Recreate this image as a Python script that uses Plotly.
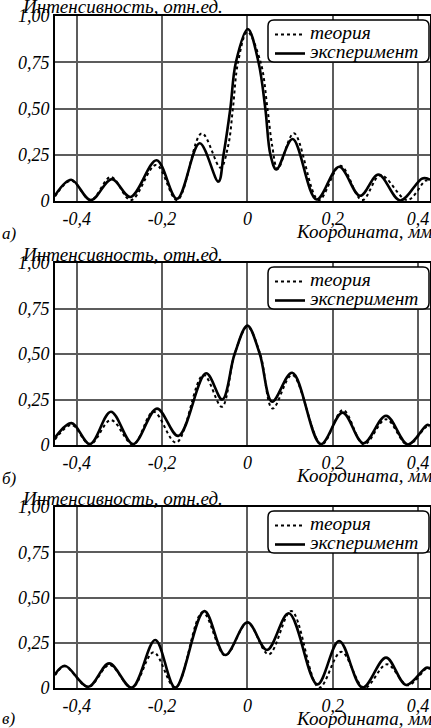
import plotly.graph_objects as go

# ---------------- data ----------------
# panel a)
a_theory_x = [-0.451, -0.413, -0.367, -0.320, -0.273, -0.214, -0.165, -0.107, -0.063, -0.045, -0.034, -0.022, 0.0,
              0.031, 0.047, 0.058, 0.071, 0.109, 0.167, 0.218, 0.269, 0.312, 0.375, 0.418, 0.428]
a_theory_y = [0.025, 0.110, 0.005, 0.130, 0.005, 0.195, 0.005, 0.366, 0.180, 0.30, 0.50, 0.75, 0.915,
              0.75, 0.50, 0.30, 0.173, 0.366, 0.005, 0.190, 0.005, 0.140, 0.005, 0.110, 0.105]
a_exp_x = [-0.451, -0.413, -0.367, -0.318, -0.274, -0.213, -0.165, -0.112, -0.068, -0.056, -0.040, -0.027, 0.001,
           0.026, 0.042, 0.054, 0.068, 0.106, 0.162, 0.215, 0.264, 0.307, 0.358, 0.410, 0.428]
a_exp_y = [0.030, 0.115, 0.005, 0.118, 0.022, 0.220, 0.012, 0.312, 0.105, 0.25, 0.50, 0.75, 0.930,
           0.75, 0.50, 0.25, 0.170, 0.335, 0.008, 0.185, 0.028, 0.143, 0.003, 0.122, 0.115]

# panel б)
b_theory_x = [-0.451, -0.412, -0.369, -0.320, -0.268, -0.220, -0.167, -0.103, -0.060, -0.030, 0.0,
              0.030, 0.059, 0.105, 0.174, 0.224, 0.273, 0.325, 0.376, 0.420, 0.428]
b_theory_y = [0.030, 0.110, 0.003, 0.137, 0.003, 0.183, 0.013, 0.385, 0.210, 0.50, 0.650,
              0.50, 0.200, 0.385, 0.003, 0.192, 0.003, 0.141, 0.000, 0.100, 0.097]
b_exp_x = [-0.451, -0.412, -0.369, -0.320, -0.268, -0.212, -0.162, -0.097, -0.059, -0.030, 0.0,
           0.029, 0.058, 0.105, 0.172, 0.223, 0.272, 0.325, 0.376, 0.421, 0.428]
b_exp_y = [0.040, 0.120, 0.005, 0.183, 0.005, 0.200, 0.050, 0.394, 0.250, 0.50, 0.656,
           0.50, 0.238, 0.397, 0.005, 0.178, 0.010, 0.161, 0.003, 0.110, 0.105]

# panel в)
c_theory_x = [-0.451, -0.428, -0.373, -0.323, -0.271, -0.220, -0.169, -0.105, -0.052, 0.0,
              0.050, 0.103, 0.168, 0.220, 0.274, 0.327, 0.376, 0.420, 0.428]
c_theory_y = [0.070, 0.120, 0.005, 0.127, 0.000, 0.197, 0.000, 0.418, 0.180, 0.360,
              0.186, 0.425, 0.002, 0.200, 0.000, 0.131, 0.015, 0.108, 0.105]
c_exp_x = [-0.451, -0.428, -0.373, -0.324, -0.271, -0.216, -0.169, -0.101, -0.052, 0.0,
           0.046, 0.097, 0.164, 0.215, 0.270, 0.325, 0.372, 0.419, 0.428]
c_exp_y = [0.075, 0.123, 0.007, 0.136, 0.002, 0.265, 0.002, 0.425, 0.182, 0.363,
           0.210, 0.413, 0.020, 0.260, 0.002, 0.168, 0.017, 0.112, 0.109]

x_tickvals = [-0.4, -0.2, 0.0, 0.2, 0.4]
x_ticktext = ["-0,4", "-0,2", "0", "0,2", "0,4"]
y_tickvals = [0, 0.25, 0.5, 0.75, 1.0]
y_ticktext = ["0", "0,25", "0,50", "0,75", "1,00"]

series_names = ["теория", "эксперимент"]
panel_labels = ["а)", "б)", "в)"]
y_title = "Интенсивность, отн.ед."
x_title = "Координата, мм"

# ---------------- layout geometry (pixels) ----------------
W, H = 431, 728
ML, MR = 55, 1
PW = W - ML - MR
panels_px = [(16, 201), (263, 445), (507, 688)]   # (top, bottom) of each plot area
label_offsets = [33, 33, 30]
FONT = "Liberation Serif"
LEG_SIZE = 19.5


def px_x(px):
    return (px - ML) / PW


def px_y(py):
    return 1 - py / H


def rounded_box(x0, y0, x1, y1, r):
    """Rounded rectangle path in paper coordinates from pixel corners."""
    rx, ry = r / PW, r / H
    X0, X1 = px_x(x0), px_x(x1)
    Y0, Y1 = px_y(y0), px_y(y1)   # Y0 top (larger), Y1 bottom
    return (f"M {X0 + rx},{Y0} L {X1 - rx},{Y0} Q {X1},{Y0} {X1},{Y0 - ry} "
            f"L {X1},{Y1 + ry} Q {X1},{Y1} {X1 - rx},{Y1} "
            f"L {X0 + rx},{Y1} Q {X0},{Y1} {X0},{Y1 + ry} "
            f"L {X0},{Y0 - ry} Q {X0},{Y0} {X0 + rx},{Y0} Z")


panels = [
    (a_theory_x, a_theory_y, a_exp_x, a_exp_y),
    (b_theory_x, b_theory_y, b_exp_x, b_exp_y),
    (c_theory_x, c_theory_y, c_exp_x, c_exp_y),
]

fig = go.Figure()
layout = dict(
    width=W, height=H,
    margin=dict(l=ML, r=MR, t=0, b=0, autoexpand=False),
    paper_bgcolor="white", plot_bgcolor="white",
    font=dict(family=FONT, size=18, color="black", style="italic"),
    showlegend=True,
    annotations=[], shapes=[],
)

for i, (tx, ty, ex, ey) in enumerate(panels):
    n = "" if i == 0 else str(i + 1)
    leg = "legend" + n
    fig.add_trace(go.Scatter(
        x=tx, y=ty, mode="lines",
        name=f"<span style='font-size:{LEG_SIZE}px'>{series_names[0]}</span>",
        line_shape="spline", line=dict(color="black", width=2, dash="dot"),
        xaxis="x" + n, yaxis="y" + n, legend=leg))
    fig.add_trace(go.Scatter(
        x=ex, y=ey, mode="lines",
        name=f"<span style='font-size:{LEG_SIZE}px'>{series_names[1]}</span>",
        line_shape="spline", line=dict(color="black", width=2.6),
        xaxis="x" + n, yaxis="y" + n, legend=leg))

    top, bot = panels_px[i]
    axis_common = dict(showgrid=True, gridcolor="#5c5c5c", gridwidth=1.5,
                       showline=True, linecolor="black", linewidth=2, mirror=True,
                       zeroline=False, ticks="", automargin=False,
                       tickfont=dict(family=FONT, size=18, style="italic", color="black"))
    layout["xaxis" + n] = dict(domain=[0, 1], range=[-0.451, 0.428], anchor="y" + n,
                               tickvals=x_tickvals, ticktext=x_ticktext, **axis_common)
    layout["yaxis" + n] = dict(domain=[px_y(bot), px_y(top)], range=[0, 1.0], anchor="x" + n,
                               tickvals=y_tickvals, ticktext=y_ticktext, **axis_common)

    layout[leg] = dict(
        x=px_x(270), xanchor="left", y=px_y(top + 4), yanchor="top",
        xref="paper", yref="paper",
        bgcolor="rgba(0,0,0,0)", borderwidth=0,
        font=dict(family=FONT, size=11, style="italic", color="black"),
        tracegroupgap=0,
    )

    layout["shapes"].append(dict(
        type="path", xref="paper", yref="paper", layer="above",
        path=rounded_box(268, top + 4, 429, top + 46, 6),
        fillcolor="white", line=dict(color="black", width=1.5)))

    layout["annotations"] += [
        dict(text=y_title, x=px_x(20), y=px_y(top - 9), xref="paper", yref="paper",
             xanchor="left", yanchor="middle", showarrow=False,
             font=dict(family=FONT, size=19, style="italic")),
        dict(text=x_title, x=px_x(434), y=px_y(bot + 30), xref="paper", yref="paper",
             xanchor="right", yanchor="middle", showarrow=False,
             font=dict(family=FONT, size=19, style="italic")),
        dict(text=panel_labels[i], x=px_x(0), y=px_y(bot + label_offsets[i]), xref="paper", yref="paper",
             xanchor="left", yanchor="middle", showarrow=False,
             font=dict(family=FONT, size=17, style="italic")),
    ]

fig.update_layout(**layout)
fig.write_html("out.html", config={"displayModeBar": False},
               post_script="document.body.style.margin='0';document.body.style.padding='0';")
